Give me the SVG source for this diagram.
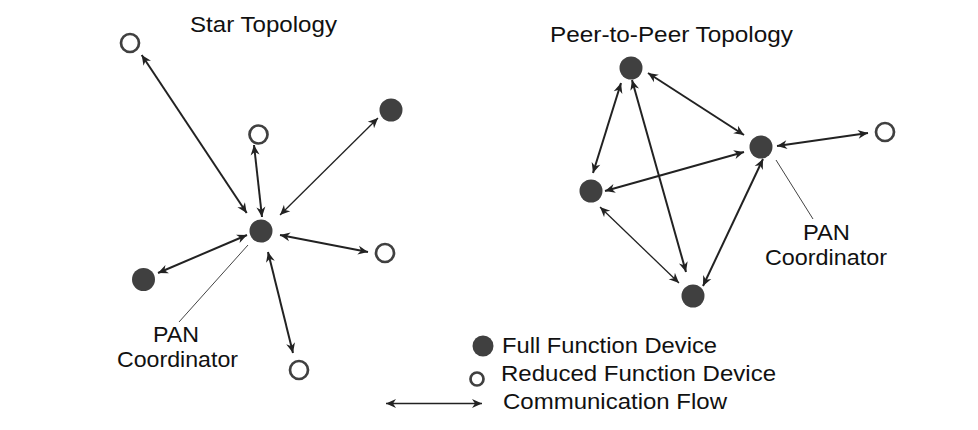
<svg xmlns="http://www.w3.org/2000/svg" width="978" height="430" viewBox="0 0 978 430">
<defs>
<marker id="ah" viewBox="0 0 10 10" refX="10" refY="5" markerWidth="11" markerHeight="10" markerUnits="userSpaceOnUse" orient="auto-start-reverse">
<path d="M0,0.5 L10,5 L0,9.5 L3,5 z" fill="#222"/>
</marker>
</defs>
<style>
.t{font-family:"Liberation Sans",Arial,sans-serif;font-size:22.5px;fill:#111}
.full{fill:#404040}
.rfd{fill:#fff;stroke:#404040;stroke-width:2.7}
.c{stroke:#222;stroke-width:2;fill:none;marker-start:url(#ah);marker-end:url(#ah)}
.ct{stroke:#222;stroke-width:1.3;fill:none;marker-start:url(#ah);marker-end:url(#ah)}
.lead{stroke:#444;stroke-width:1;fill:none}
</style>
<rect width="978" height="430" fill="#fff"/>

<g id="connectors">
<line class="c" x1="141.7" y1="55" x2="246.7" y2="213"/>
<line class="c" x1="254" y1="145" x2="262" y2="217"/>
<line class="ct" x1="378" y1="118" x2="280" y2="215"/>
<line class="c" x1="158" y1="273" x2="247" y2="235"/>
<line class="c" x1="280" y1="235" x2="368" y2="252"/>
<line class="c" x1="268" y1="252" x2="293" y2="353"/>
<line class="lead" x1="248" y1="245" x2="179" y2="322"/>

<line class="c" x1="648" y1="73" x2="744" y2="135"/>
<line class="c" x1="621" y1="83" x2="593" y2="173"/>
<line class="c" x1="632" y1="80" x2="686" y2="272"/>
<line class="c" x1="777" y1="146" x2="868" y2="133"/>
<line class="c" x1="744" y1="152" x2="605" y2="191"/>
<line class="ct" x1="600" y1="207" x2="679" y2="283"/>
<line class="c" x1="763" y1="159" x2="703" y2="286"/>
<line class="lead" x1="776" y1="160" x2="813" y2="219"/>

<line class="ct" x1="386" y1="403.5" x2="482" y2="403.5"/>
</g>

<g id="star-title"><text class="t" x="190" y="32" textLength="147" lengthAdjust="spacingAndGlyphs">Star Topology</text></g>
<g id="p2p-title"><text class="t" x="550" y="42" textLength="243" lengthAdjust="spacingAndGlyphs">Peer-to-Peer Topology</text></g>

<g id="star-pan"><circle class="full" cx="261" cy="231" r="11.5"/></g>
<g id="star-rfd1"><circle class="rfd" cx="130" cy="43" r="9"/></g>
<g id="star-rfd2"><circle class="rfd" cx="258.5" cy="134.5" r="9"/></g>
<g id="star-ffd1"><circle class="full" cx="391" cy="110" r="11.5"/></g>
<g id="star-rfd3"><circle class="rfd" cx="385" cy="253" r="9"/></g>
<g id="star-ffd2"><circle class="full" cx="143.5" cy="279.5" r="11.5"/></g>
<g id="star-rfd4"><circle class="rfd" cx="299" cy="370" r="9"/></g>
<g id="star-pan-label">
<text class="t" x="153" y="342" textLength="46" lengthAdjust="spacingAndGlyphs">PAN</text>
<text class="t" x="117" y="367" textLength="121" lengthAdjust="spacingAndGlyphs">Coordinator</text>
</g>

<g id="p2p-top"><circle class="full" cx="631" cy="68" r="11.5"/></g>
<g id="p2p-pan"><circle class="full" cx="761" cy="147" r="11.5"/></g>
<g id="p2p-rfd"><circle class="rfd" cx="885" cy="132" r="9"/></g>
<g id="p2p-left"><circle class="full" cx="591" cy="191" r="11.5"/></g>
<g id="p2p-bottom"><circle class="full" cx="693" cy="296" r="11.5"/></g>
<g id="p2p-pan-label">
<text class="t" x="803" y="240" textLength="47" lengthAdjust="spacingAndGlyphs">PAN</text>
<text class="t" x="765" y="265" textLength="122" lengthAdjust="spacingAndGlyphs">Coordinator</text>
</g>

<g id="legend">
<circle class="full" cx="483" cy="346" r="10.5"/>
<text class="t" x="502" y="353" textLength="215" lengthAdjust="spacingAndGlyphs">Full Function Device</text>
<circle class="rfd" cx="477" cy="379" r="6.5"/>
<text class="t" x="501" y="381" textLength="275" lengthAdjust="spacingAndGlyphs">Reduced Function Device</text>
<text class="t" x="503" y="409" textLength="224" lengthAdjust="spacingAndGlyphs">Communication Flow</text>
</g>
</svg>
